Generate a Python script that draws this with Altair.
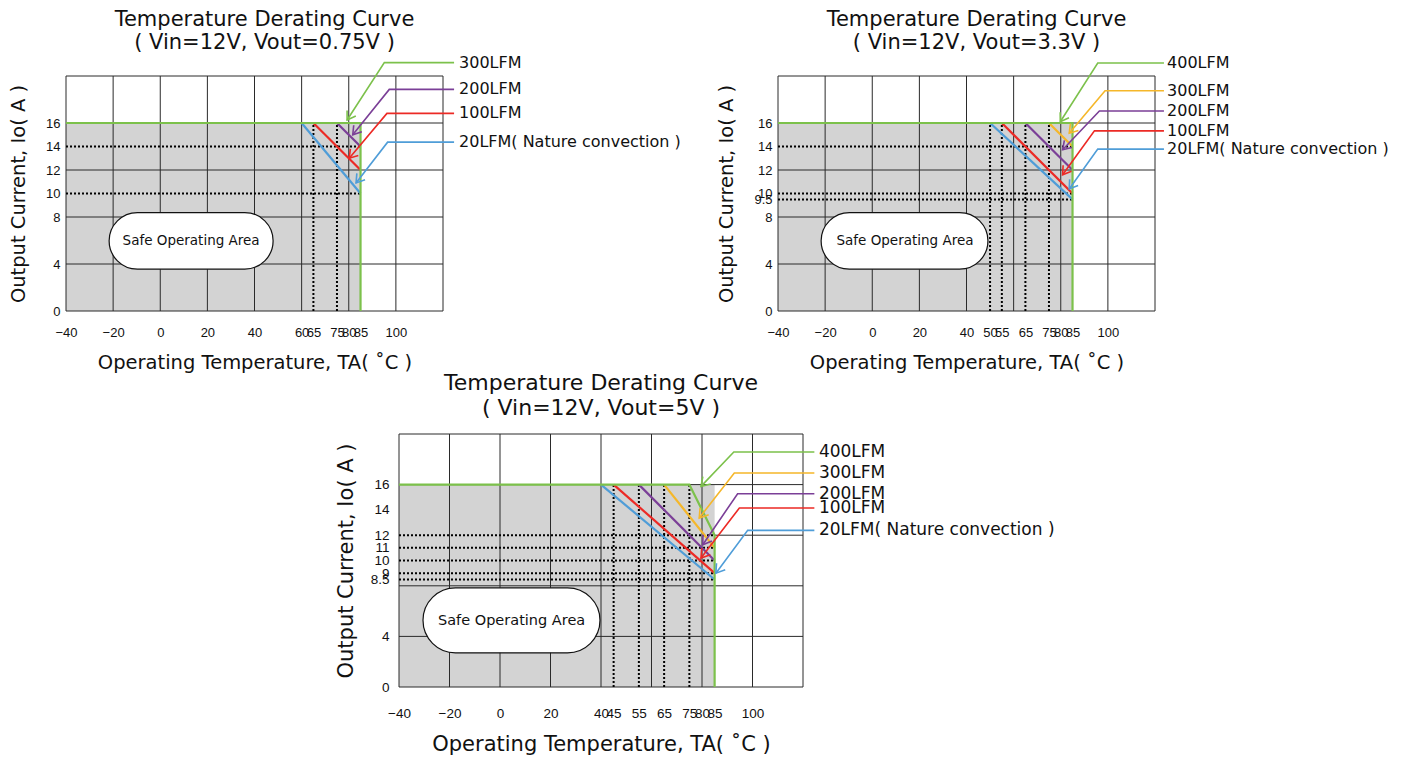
import math
import altair as alt
import pandas as pd

# ---------------- shared values ----------------
X_DOMAIN = [-40, 120]
Y_DOMAIN = [0, 20]
GRID_X = [-40, -20, 0, 20, 40, 60, 80, 100, 120]
GRID_Y = [0, 4, 8, 12, 16, 20]
FILL_X = [-40, 85]
FILL_Y = [0, 16]
DOT_END_X = 85
DOT_END_Y = 16

LABELS5 = ["20LFM( Nature convection )", "100LFM", "200LFM", "300LFM", "400LFM"]
BLUE, RED, PURPLE, YELLOW, GREEN = "#4f9dd8", "#ec2a25", "#7b3f97", "#f5b72a", "#7cc14b"

# ---------------- panel 1 : Vout = 0.75V ----------------
P1_TITLE = ["Temperature Derating Curve", "( Vin=12V, Vout=0.75V )"]
P1_XTICKS = [-40, -20, 0, 20, 40, 60, 65, 75, 80, 85, 100]
P1_YTICKS = [0, 4, 8, 10, 12, 14, 16]
P1_GRID_Y_START = [-40, -40, -40, -40, -40, -40]
P1_DOT_H = [14, 10]
P1_DOT_V = [65, 75]
P1_SERIES = ["20LFM( Nature convection )", "100LFM", "200LFM", "300LFM"]
P1_COLORS = [BLUE, RED, PURPLE, GREEN]
P1_CURVE_X = [[60, 85], [65, 85], [75, 85], [-40, 85, 85]]
P1_CURVE_Y = [[16, 10], [16, 12], [16, 14], [16, 16, 0]]
P1_CALL_Y = [14.37, 16.82, 18.86, 21.14]
P1_CALL_BEND_X = [96.5, 96.2, 97.2, 95.1]
P1_CALL_TIP_X = [83.1, 80.2, 81.7, 79.3]
P1_CALL_TIP_Y = [10.9, 13.0, 15.0, 16.26]
P1_CALL_END_X = 124.7
P1_LABEL_X = 126.8
P1_BOX_X = [-21.7, 47.9]
P1_BOX_Y = [3.56, 8.38]
P1_BOX_TEXT = [13.1, 6.0]

# ---------------- panel 2 : Vout = 3.3V ----------------
P2_TITLE = ["Temperature Derating Curve", "( Vin=12V, Vout=3.3V )"]
P2_XTICKS = [-40, -20, 0, 20, 40, 50, 55, 65, 75, 80, 85, 100]
P2_YTICKS = [0, 4, 8, 9.5, 10, 12, 14, 16]
P2_GRID_Y_START = [-40, -40, -40, -40, -40, -40]
P2_DOT_H = [14, 10, 9.5]
P2_DOT_V = [50, 55, 65, 75]
P2_SERIES = LABELS5
P2_COLORS = [BLUE, RED, PURPLE, YELLOW, GREEN]
P2_CURVE_X = [[50, 85], [55, 85], [65, 85], [75, 85], [-40, 85, 85]]
P2_CURVE_Y = [[16, 9.5], [16, 10], [16, 12], [16, 14], [16, 16, 0]]
P2_CALL_Y = [13.78, 15.33, 17.02, 18.74, 21.11]
P2_CALL_BEND_X = [95.7, 94.3, 96.4, 98.8, 95.7]
P2_CALL_TIP_X = [83.6, 80.8, 80.8, 83.6, 79.8]
P2_CALL_TIP_Y = [10.39, 11.6, 13.72, 15.13, 16.11]
P2_CALL_END_X = 123.8
P2_LABEL_X = 125.1
P2_BOX_X = [-21.7, 49.1]
P2_BOX_Y = [3.56, 8.38]
P2_BOX_TEXT = [13.9, 6.0]

# ---------------- panel 3 : Vout = 5V ----------------
P3_TITLE = ["Temperature Derating Curve", "( Vin=12V, Vout=5V )"]
P3_XTICKS = [-40, -20, 0, 20, 40, 45, 55, 65, 75, 80, 85, 100]
P3_YTICKS = [0, 4, 8.5, 9, 10, 11, 12, 14, 16]
P3_GRID_Y_START = [-40, -40, -40, 85, -40, -40]
P3_DOT_H = [12, 11, 10, 9, 8.5]
P3_DOT_V = [45, 55, 65, 75]
P3_SERIES = LABELS5
P3_COLORS = [BLUE, RED, PURPLE, YELLOW, GREEN]
P3_CURVE_X = [[40, 85], [45, 85], [55, 85], [65, 85], [-40, 75, 85, 85]]
P3_CURVE_Y = [[16, 8.5], [16, 9], [16, 10], [16, 11], [16, 16, 12, 0]]
P3_CALL_Y = [12.38, 14.15, 15.28, 16.92, 18.58]
P3_CALL_BEND_X = [98.1, 94.8, 94.1, 92.8, 92.6]
P3_CALL_TIP_X = [85.5, 79.6, 80.3, 78.9, 79.6]
P3_CALL_TIP_Y = [9.0, 10.19, 11.24, 13.36, 15.86]
P3_CALL_END_X = 124.5
P3_LABEL_X = 126.3
P3_BOX_X = [-30.5, 39.6]
P3_BOX_Y = [2.7, 7.84]
P3_BOX_TEXT = [4.6, 5.2]

X_TITLE = "Operating Temperature, TA( \u02daC )"
Y_TITLE = "Output Current, Io( A )"
FONT = "DejaVu Sans"
TICK_FONT = "Liberation Sans"
ARROW_SHAPE = "M -1 -0.65 L 0 0 L -1 0.65"


def panel(d, st):
    W, H = st["w"], st["h"]
    xs = alt.Scale(domain=X_DOMAIN, nice=False, zero=False)
    ys = alt.Scale(domain=Y_DOMAIN, nice=False, zero=False)
    xaxis = alt.Axis(values=d["xticks"], format=".4~r", title=X_TITLE, grid=False, ticks=False, domain=False,
                     labelOverlap=False, labelFlush=False, labelFont=TICK_FONT,
                     labelFontSize=st["tick_fs"], labelColor="#111", labelPadding=st["xlabpad"],
                     titleFont=FONT, titleFontSize=st["axis_fs"], titleFontWeight="normal",
                     titleColor="#111", titlePadding=st["xtitlepad"])
    yaxis = alt.Axis(values=d["yticks"], format=".4~r", title=Y_TITLE, grid=False, ticks=False, domain=False,
                     labelOverlap=False, labelFlush=False, labelFont=TICK_FONT,
                     labelFontSize=st["tick_fs"], labelColor="#111", labelPadding=st["ylabpad"],
                     titleFont=FONT, titleFontSize=st["axis_fs"], titleFontWeight="normal",
                     titleColor="#111", titlePadding=st["ytitlepad"])

    def X(f):
        return alt.X(f"{f}:Q", scale=xs, axis=xaxis)

    def Y(f):
        return alt.Y(f"{f}:Q", scale=ys, axis=yaxis)

    col = alt.Color("c:N", scale=None, legend=None)

    fill_df = pd.DataFrame({"x": [FILL_X[0]], "x2": [FILL_X[1]], "y": [FILL_Y[0]], "y2": [FILL_Y[1]]})
    fill = alt.Chart(fill_df).mark_rect(color="#d3d3d3").encode(x=X("x"), x2="x2", y=Y("y"), y2="y2")

    gv_df = pd.DataFrame({"x": GRID_X, "y": [Y_DOMAIN[0]] * len(GRID_X), "y2": [Y_DOMAIN[1]] * len(GRID_X)})
    gv = alt.Chart(gv_df).mark_rule(color="#2a2a2a", strokeWidth=1).encode(x=X("x"), y=Y("y"), y2="y2")
    gh_df = pd.DataFrame({"y": GRID_Y, "x": d["grid_y_start"], "x2": [X_DOMAIN[1]] * len(GRID_Y)})
    gh = alt.Chart(gh_df).mark_rule(color="#2a2a2a", strokeWidth=1).encode(y=Y("y"), x=X("x"), x2="x2")

    dh_df = pd.DataFrame({"y": d["dot_h"], "x": [X_DOMAIN[0]] * len(d["dot_h"]),
                          "x2": [DOT_END_X] * len(d["dot_h"])})
    dh = alt.Chart(dh_df).mark_rule(color="#000", strokeWidth=2, strokeDash=[2, 2]).encode(
        y=Y("y"), x=X("x"), x2="x2")
    dv_df = pd.DataFrame({"x": d["dot_v"], "y": [0] * len(d["dot_v"]), "y2": [DOT_END_Y] * len(d["dot_v"])})
    dv = alt.Chart(dv_df).mark_rule(color="#000", strokeWidth=2, strokeDash=[2, 2]).encode(
        x=X("x"), y=Y("y"), y2="y2")

    box_df = pd.DataFrame({"x": [d["box_x"][0]], "x2": [d["box_x"][1]],
                           "y": [d["box_y"][0]], "y2": [d["box_y"][1]]})
    box_h = (d["box_y"][1] - d["box_y"][0]) * H / 20.0
    box = alt.Chart(box_df).mark_rect(fill="white", stroke="#111", strokeWidth=1.2,
                                      cornerRadius=box_h / 2).encode(x=X("x"), x2="x2", y=Y("y"), y2="y2")
    bt_df = pd.DataFrame({"x": [d["box_text"][0]], "y": [d["box_text"][1]], "t": ["Safe Operating Area"]})
    bt = alt.Chart(bt_df).mark_text(font=FONT, fontSize=st["box_fs"], color="#111").encode(
        x=X("x"), y=Y("y"), text="t:N")

    rows = []
    for i, s in enumerate(d["series"]):
        for j, (cx, cy) in enumerate(zip(d["curve_x"][i], d["curve_y"][i])):
            rows.append({"s": s, "c": d["colors"][i], "o": j, "x": cx, "y": cy})
    curves = alt.Chart(pd.DataFrame(rows)).mark_line(strokeWidth=2.2, strokeJoin="miter").encode(
        x=X("x"), y=Y("y"), color=col, order=alt.Order("o:Q"), detail="s:N")

    crow, arow, lrow = [], [], []
    pxx, pxy = W / 160.0, H / 20.0
    for i, s in enumerate(d["series"]):
        c = d["colors"][i]
        pts = [(d["call_end_x"], d["call_y"][i]), (d["call_bend_x"][i], d["call_y"][i]),
               (d["call_tip_x"][i], d["call_tip_y"][i])]
        for j, (cx, cy) in enumerate(pts):
            crow.append({"s": s, "c": c, "o": j, "x": cx, "y": cy})
        dxp = (d["call_tip_x"][i] - d["call_bend_x"][i]) * pxx
        dyp = -(d["call_tip_y"][i] - d["call_y"][i]) * pxy
        ang = math.degrees(math.atan2(dyp, dxp)) % 360
        arow.append({"s": s, "c": c, "x": d["call_tip_x"][i], "y": d["call_tip_y"][i], "a": ang})
        lrow.append({"s": s, "x": d["label_x"], "y": d["call_y"][i]})
    calls = alt.Chart(pd.DataFrame(crow)).mark_line(strokeWidth=1.6).encode(
        x=X("x"), y=Y("y"), color=col, order=alt.Order("o:Q"), detail="s:N")
    arrows = alt.Chart(pd.DataFrame(arow)).mark_point(shape=ARROW_SHAPE, filled=False, size=st["arrow_size"],
                                                      strokeWidth=1.6, opacity=1).encode(
        x=X("x"), y=Y("y"), color=col, angle=alt.Angle("a:Q", scale=None))
    labels = alt.Chart(pd.DataFrame(lrow)).mark_text(font=FONT, fontSize=st["call_fs"], align="left",
                                                     baseline="middle", color="#111").encode(
        x=X("x"), y=Y("y"), text="s:N")

    return alt.layer(fill, gv, gh, dh, dv, box, bt, curves, calls, arrows, labels).properties(
        width=W, height=H,
        title=alt.TitleParams(text=d["title"], font=FONT, fontSize=st["title_fs"], fontWeight="normal",
                              color="#111", anchor="middle", frame="group", offset=st["title_off"],
                              dx=st["title_dx"], lineHeight=st["title_lh"]))


def pdata(p):
    g = globals()
    keys = ["TITLE", "XTICKS", "YTICKS", "GRID_Y_START", "DOT_H", "DOT_V", "SERIES", "COLORS", "CURVE_X",
            "CURVE_Y", "CALL_Y", "CALL_BEND_X", "CALL_TIP_X", "CALL_TIP_Y", "CALL_END_X", "LABEL_X",
            "BOX_X", "BOX_Y", "BOX_TEXT"]
    return {k.lower(): g[f"{p}_{k}"] for k in keys}


ST_TOP = dict(w=377, h=235, tick_fs=13, axis_fs=19.5, title_fs=21, call_fs=16, box_fs=13.5,
              xlabpad=15, xtitlepad=14, ylabpad=6, ytitlepad=17, title_off=2, title_dx=10, title_lh=23,
              arrow_size=256)
ST_BOT = dict(w=404, h=253, tick_fs=13.5, axis_fs=21, title_fs=22, call_fs=17, box_fs=14.5,
              xlabpad=19, xtitlepad=14, ylabpad=10, ytitlepad=14, title_off=14, title_dx=0, title_lh=25,
              arrow_size=280)

p1 = panel(pdata("P1"), ST_TOP)
p2 = panel(pdata("P2"), ST_TOP)
p3 = panel(pdata("P3"), ST_BOT)

SPACER = pd.DataFrame({"a": [0]})
spacer = alt.Chart(SPACER).mark_point(opacity=0).encode(
    x=alt.X("a:Q", axis=None), y=alt.Y("a:Q", axis=None)).properties(width=1, height=1)

top = alt.hconcat(p1, p2, spacing=335, bounds="flush")
bottom = alt.hconcat(spacer, p3, spacing=332, bounds="flush")
chart = alt.vconcat(top, bottom, spacing=358, bounds="flush").configure_view(stroke=None).properties(
    padding={"left": 0, "top": 0, "right": 0, "bottom": 0})

chart.save("out.html", embed_options={"renderer": "svg", "actions": False})
